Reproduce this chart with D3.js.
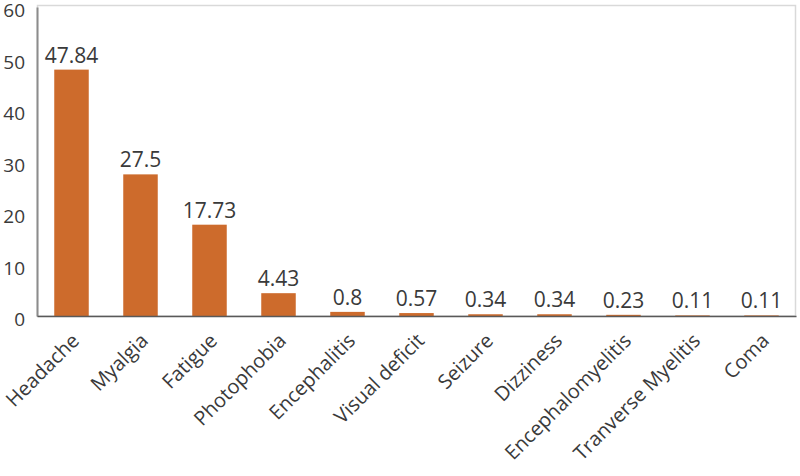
<!DOCTYPE html>
<html>
<head>
<meta charset="utf-8">
<script src="https://cdn.jsdelivr.net/npm/d3@7"></script>
<style>
  body { margin: 0; background: #fff; }
  text { font-family: "Open Sans", "Noto Sans", sans-serif; fill: #3a3a3a; }
</style>
</head>
<body>
<div id="chart"></div>
<script>
// symptom frequencies (%)
var categories = ['Headache', 'Myalgia', 'Fatigue', 'Photophobia', 'Encephalitis', 'Visual deficit',
                  'Seizure', 'Dizziness', 'Encephalomyelitis', 'Tranverse Myelitis', 'Coma'];
var values = [47.84, 27.5, 17.73, 4.43, 0.8, 0.57, 0.34, 0.34, 0.23, 0.11, 0.11];
var yTicks = [0, 10, 20, 30, 40, 50, 60];

var width = 800, height = 476;
var margin = {top: 7, right: 4, bottom: 160, left: 37};

var svg = d3.select('#chart').append('svg')
	.attr('width', width).attr('height', height);

var data = categories.map(function(c, i) { return {name: c, value: values[i]}; });

var x = d3.scaleBand()
	.domain(categories)
	.range([margin.left, width - margin.right])
	.paddingInner(0.5).paddingOuter(0.25);

var y = d3.scaleLinear()
	.domain([0, 60])
	.range([height - margin.bottom, margin.top]);

// plot border
svg.append('rect')
	.attr('x', margin.left + 0.5).attr('y', margin.top - 1.5)
	.attr('width', width - margin.right - margin.left - 1)
	.attr('height', y(0) - margin.top + 1.5)
	.attr('fill', 'none').attr('stroke', '#d9d9d9').attr('stroke-width', 1.5);

// y axis
var yAxis = svg.append('g')
	.attr('transform', 'translate(' + margin.left + ',0)')
	.call(d3.axisLeft(y).tickValues(yTicks).tickSize(0).tickPadding(12));
yAxis.select('.domain').attr('stroke', '#8c8c8c').attr('stroke-width', 2);
yAxis.selectAll('text').style('font-size', '19px').attr('fill', '#3a3a3a').attr('dy', '0.5em');

// bars
svg.selectAll('.bar')
	.data(data)
	.enter().append('rect')
	.attr('class', 'bar')
	.attr('x', function(d) { return x(d.name); })
	.attr('y', function(d) { return y(d.value); })
	.attr('width', x.bandwidth())
	.attr('height', function(d) { return y(0) - y(d.value); })
	.attr('fill', '#cd6b2c');

// value labels
svg.selectAll('.val')
	.data(data)
	.enter().append('text')
	.attr('class', 'val')
	.attr('x', function(d) { return x(d.name) + x.bandwidth() / 2; })
	.attr('y', function(d) { return y(d.value) - 7; })
	.attr('text-anchor', 'middle')
	.style('font-size', '21px')
	.text(function(d) { return d.value; });

// x axis
var xAxis = svg.append('g')
	.attr('transform', 'translate(0,' + y(0) + ')')
	.call(d3.axisBottom(x).tickSize(0).tickPadding(0));
xAxis.select('.domain').attr('stroke', '#595959').attr('stroke-width', 1.5);
xAxis.selectAll('text')
	.style('font-size', '20px')
	.attr('fill', '#3a3a3a')
	.attr('text-anchor', 'end')
	.attr('dy', '0.35em')
	.attr('transform', 'translate(4,21) rotate(-45)');
</script>
</body>
</html>
